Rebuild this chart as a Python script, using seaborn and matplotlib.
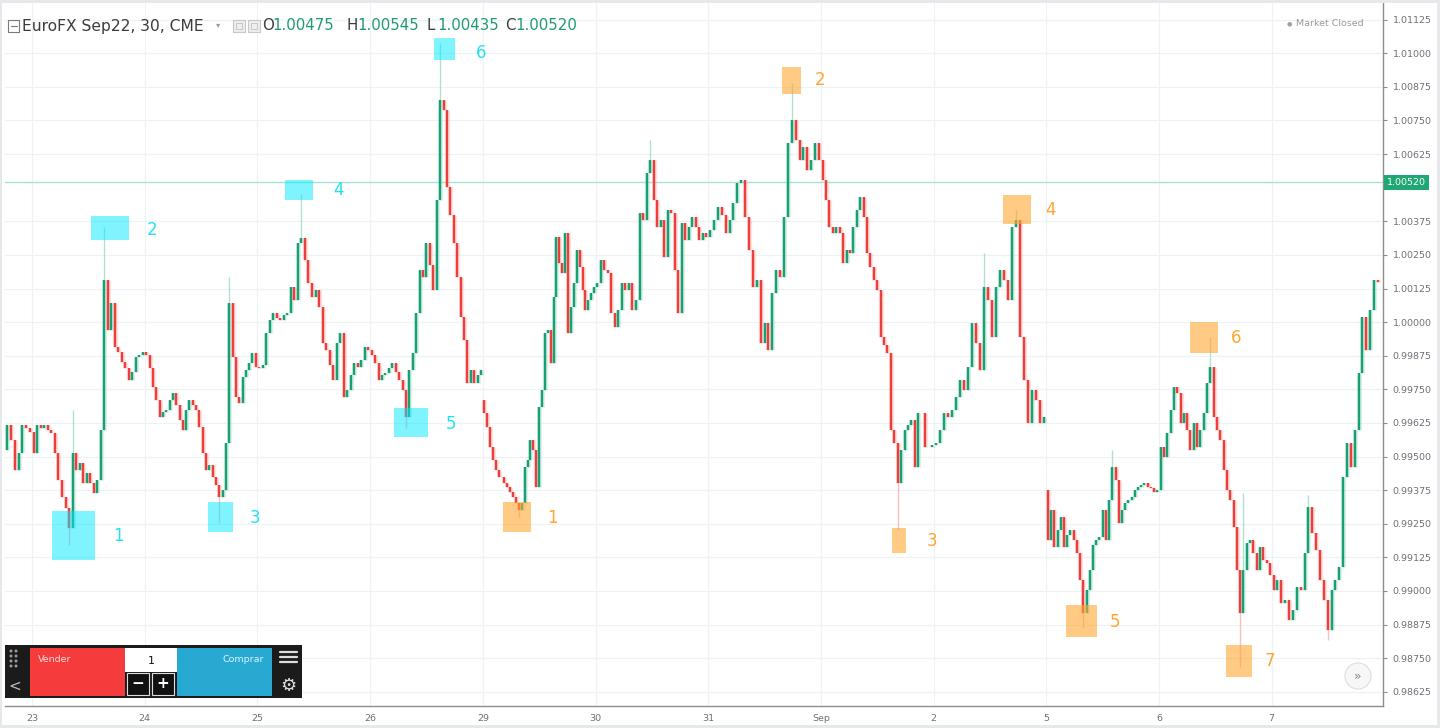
import numpy as np
import pandas as pd
import matplotlib
matplotlib.use("Agg")
import matplotlib.pyplot as plt
import seaborn as sns
from matplotlib.patches import Rectangle, Circle, Ellipse

# ---------------- data ----------------
sessions = ["22", "23", "24", "25", "26", "29", "30", "31", "Sep", "2", "5", "6", "7"]
session_pos = [-1, 0, 1, 2, 3, 4, 5, 6, 7, 8, 9, 10, 11]
shown_fraction = [0.24, 1, 1, 1, 1, 1, 1, 1, 1, 1, 1, 1, 0.96]
first_open = {"22": 0.99524, "29": 0.99710, "5": 0.99375}

closes = {
    "22": [0.99617, 0.99561, 0.99450, 0.99513, 0.99617, 0.99606, 0.99591],
    "23": [0.99513, 0.99617, 0.99606, 0.99617, 0.99598, 0.99587, 0.99513, 0.99412, 0.99349, 0.99308,
           0.99234, 0.99513, 0.99450, 0.99476, 0.99401, 0.99438, 0.99401, 0.99364, 0.99412, 0.99598,
           1.00156, 0.99970, 1.00071, 0.99907, 0.99888, 0.99851, 0.99829, 0.99784, 0.99814, 0.99870,
           0.99877, 0.99888],
    "24": [0.99877, 0.99829, 0.99758, 0.99710, 0.99647, 0.99665, 0.99673, 0.99710, 0.99736, 0.99691,
           0.99636, 0.99598, 0.99673, 0.99710, 0.99691, 0.99673, 0.99610, 0.99513, 0.99450, 0.99468,
           0.99424, 0.99394, 0.99349, 0.99375, 0.99550, 1.00071, 0.99870, 0.99721, 0.99699, 0.99796,
           0.99822, 0.99848, 0.99885, 0.99833],
    "25": [0.99829, 0.99840, 0.99959, 1.00008, 1.00034, 1.00015, 1.00008, 1.00026, 1.00034, 1.00130,
           1.00082, 1.00294, 1.00313, 1.00231, 1.00145, 1.00093, 1.00119, 1.00056, 0.99922, 0.99896,
           0.99840, 0.99784, 0.99922, 0.99959, 0.99721, 0.99747, 0.99803, 0.99848, 0.99833, 0.99859,
           0.99907, 0.99896],
    "26": [0.99877, 0.99848, 0.99784, 0.99803, 0.99810, 0.99829, 0.99848, 0.99814, 0.99784, 0.99747,
           0.99647, 0.99822, 0.99885, 1.00034, 1.00194, 1.00167, 1.00294, 1.00212, 1.00119, 1.00454,
           1.00826, 1.00789, 1.00502, 1.00398, 1.00294, 1.00167, 1.00019, 0.99933, 0.99773, 0.99822,
           0.99773, 0.99803, 0.99822],
    "29": [0.99662, 0.99610, 0.99535, 0.99487, 0.99450, 0.99424, 0.99424, 0.99401, 0.99386, 0.99368,
           0.99349, 0.99327, 0.99301, 0.99327, 0.99461, 0.99487, 0.99561, 0.99524, 0.99386, 0.99684,
           0.99747, 0.99959, 0.99970, 0.99848, 1.00093, 1.00316, 1.00220, 1.00182, 1.00331, 0.99959,
           1.00056, 1.00145, 1.00268, 1.00205, 1.00119, 1.00045, 1.00082, 1.00108, 1.00130],
    "30": [1.00145, 1.00231, 1.00194, 1.00182, 1.00034, 0.99982, 1.00045, 1.00145, 1.00119, 1.00145,
           1.00045, 1.00082, 1.00406, 1.00380, 1.00554, 1.00603, 1.00454, 1.00354, 1.00380, 1.00242,
           1.00417, 1.00406, 1.00194, 1.00034, 1.00368, 1.00305, 1.00354, 1.00391, 1.00354, 1.00305,
           1.00331, 1.00316],
    "31": [1.00342, 1.00380, 1.00428, 1.00398, 1.00331, 1.00380, 1.00443, 1.00517, 1.00528, 1.00391,
           1.00268, 1.00130, 1.00156, 0.99922, 0.99996, 0.99896, 1.00108, 1.00194, 1.00167, 1.00391,
           1.00666, 1.00752, 1.00677, 1.00603, 1.00651, 1.00566, 1.00603, 1.00666, 1.00603],
    "Sep": [1.00528, 1.00454, 1.00354, 1.00331, 1.00354, 1.00331, 1.00220, 1.00268, 1.00257, 1.00354,
            1.00417, 1.00465, 1.00391, 1.00257, 1.00205, 1.00156, 1.00119, 0.99944, 0.99914, 0.99885,
            0.99598, 0.99550, 0.99401, 0.99524, 0.99598, 0.99617, 0.99636, 0.99461, 0.99662, 0.99662,
            0.99535, 0.99535, 0.99543],
    "2": [0.99550, 0.99598, 0.99662, 0.99647, 0.99673, 0.99721, 0.99784, 0.99747, 0.99833, 0.99996,
          0.99922, 0.99822, 1.00130, 1.00082, 0.99944, 1.00130, 1.00194, 1.00156, 1.00082, 1.00354,
          1.00380, 0.99944, 0.99784, 0.99624, 0.99747, 0.99710, 0.99624, 0.99647],
    "5": [0.99189, 0.99301, 0.99163, 0.99226, 0.99275, 0.99163, 0.99208, 0.99226, 0.99189, 0.99141,
          0.99040, 0.98918, 0.99003, 0.99078, 0.99171, 0.99189, 0.99200, 0.99301, 0.99189, 0.99338,
          0.99461, 0.99412, 0.99252, 0.99301, 0.99327, 0.99338, 0.99349, 0.99375, 0.99386, 0.99394,
          0.99401, 0.99386, 0.99382, 0.99368, 0.99375],
    "6": [0.99535, 0.99498, 0.99587, 0.99673, 0.99758, 0.99736, 0.99624, 0.99662, 0.99598, 0.99524,
          0.99624, 0.99535, 0.99598, 0.99662, 0.99773, 0.99833, 0.99647, 0.99598, 0.99561, 0.99450,
          0.99375, 0.99338, 0.99237, 0.99078, 0.98918, 0.99078, 0.99178, 0.99189, 0.99141, 0.99078,
          0.99163, 0.99115, 0.99104, 0.99059],
    "7": [0.99003, 0.99040, 0.98955, 0.98966, 0.98892, 0.98929, 0.99014, 0.99003, 0.99141, 0.99312,
          0.99215, 0.99152, 0.99040, 0.98966, 0.98854, 0.99003, 0.99040, 0.99089, 0.99424, 0.99550,
          0.99461, 0.99598, 0.99810, 1.00019, 0.99896, 1.00045, 1.00156, 1.00148],
}

wick_highs = {("23", 11): 0.99673, ("23", 20): 1.00354, ("24", 25): 1.00167, ("25", 12): 1.00478,
              ("26", 20): 1.01038, ("30", 15): 1.00677, ("31", 21): 1.00889, ("2", 12): 1.00257,
              ("2", 20): 1.00417, ("5", 20): 0.99524, ("6", 15): 0.99944, ("6", 25): 0.99364,
              ("7", 9): 0.99356}
wick_lows = {("23", 10): 0.99171, ("24", 22): 0.99252, ("26", 10): 0.99606, ("29", 12): 0.99275,
             ("Sep", 22): 0.99226, ("5", 11): 0.98862, ("6", 24): 0.98717, ("7", 14): 0.98818}

current_price = 1.00520
header_ohlc = [("O", "1.00475"), ("H", "1.00545"), ("L", "1.00435"), ("C", "1.00520")]
price_ticks = [0.98625, 0.98750, 0.98875, 0.99000, 0.99125, 0.99250, 0.99375, 0.99500, 0.99625,
               0.99750, 0.99875, 1.00000, 1.00125, 1.00250, 1.00375, 1.00625, 1.00750, 1.00875,
               1.01000, 1.01125]
day_labels = ["23", "24", "25", "26", "29", "30", "31", "Sep", "2", "5", "6", "7"]
day_ticks = [0, 1, 2, 3, 4, 5, 6, 7, 8, 9, 10, 11]

# marker boxes: (label, x0, x1, price_low, price_high, label_x, label_price)
cyan_marks = [("1", 0.177, 0.559, 0.99115, 0.99297, 0.719, 0.99204),
              ("2", 0.524, 0.861, 1.00305, 1.00394, 1.020, 1.00342),
              ("3", 1.562, 1.784, 0.99219, 0.99331, 1.934, 0.99271),
              ("4", 2.245, 2.493, 1.00454, 1.00528, 2.671, 1.00491),
              ("5", 3.212, 3.514, 0.99572, 0.99680, 3.673, 0.99621),
              ("6", 3.567, 3.753, 1.00975, 1.01057, 3.940, 1.01001)]
orange_marks = [("1", 4.179, 4.428, 0.99219, 0.99331, 4.570, 0.99271),
                ("2", 6.655, 6.824, 1.00848, 1.00949, 6.948, 1.00900),
                ("3", 7.631, 7.755, 0.99141, 0.99234, 7.941, 0.99185),
                ("4", 8.616, 8.864, 1.00365, 1.00473, 8.988, 1.00417),
                ("5", 9.175, 9.450, 0.98828, 0.98947, 9.565, 0.98884),
                ("6", 10.275, 10.524, 0.99885, 1.00000, 10.639, 0.99941),
                ("7", 10.595, 10.825, 0.98680, 0.98799, 10.941, 0.98739)]

# ---------------- build candle table ----------------
rows = []
prev = None
for s, k, frac in zip(sessions, session_pos, shown_fraction):
    c = closes[s]
    n = len(c)
    start = k + 1 - frac if s == sessions[0] else k
    for i, cl in enumerate(c):
        op = first_open[s] if (i == 0 and s in first_open) else prev
        x = start + (i + 0.5) / n * frac
        hi = max(op, cl)
        lo = min(op, cl)
        hi = max(hi, wick_highs.get((s, i), hi))
        lo = min(lo, wick_lows.get((s, i), lo))
        rows.append(dict(session=s, x=x, open=op, close=cl, high=hi, low=lo))
        prev = cl
df = pd.DataFrame(rows)
df["up"] = df["close"] >= df["open"]

UP = "#17a073"
DOWN = "#ec3f3c"
UP_L = "#9fd9c4"
DOWN_L = "#f6b0ad"

sns.set_theme(style="white")
plt.rcParams["font.family"] = ["DejaVu Sans"]

W, H = 1440, 728
fig = plt.figure(figsize=(W / 100, H / 100), dpi=100, facecolor="white")


def fx(x):
    return x / W


def fy(y):
    return 1 - y / H


ax = fig.add_axes([fx(5), fy(706), fx(1383) - fx(5), fy(3) - fy(706)])
ax.set_facecolor("white")
ax.set_xlim(-0.240, 11.988)
ax.set_ylim(0.98572, 1.01187)

# grid
for p in price_ticks:
    ax.axhline(p, color="#eef1f5", lw=0.9, zorder=0)
for d in day_ticks:
    ax.axvline(d, color="#eef1f5", lw=0.9, zorder=0)

# current price line
ax.axhline(current_price, color="#a6e3d2", lw=1.0, zorder=1)

# candles
body_lo = np.minimum(df["open"], df["close"])
body_hi = np.maximum(df["open"], df["close"]) + 0.000012
cols = np.where(df["up"], UP, DOWN)
lcols = np.where(df["up"], UP_L, DOWN_L)
ax.vlines(df["x"], df["low"], df["high"], colors=lcols, lw=1.0, alpha=0.8, zorder=2)
ax.vlines(df["x"], body_lo, body_hi, colors=lcols, lw=3.8, alpha=0.35, zorder=2)
ax.vlines(df["x"], body_lo, body_hi, colors=cols, lw=1.7, zorder=3)

# marker boxes
for lab, x0, x1, p0, p1, lx, lp in cyan_marks:
    ax.add_patch(Rectangle((x0, p0), x1 - x0, p1 - p0, fc="#00eaff", ec="none", alpha=0.5, zorder=4))
    ax.text(lx, lp, lab, color="#22e2f2", fontsize=12, va="center", ha="left", zorder=5)
for lab, x0, x1, p0, p1, lx, lp in orange_marks:
    ax.add_patch(Rectangle((x0, p0), x1 - x0, p1 - p0, fc="#ffa833", ec="none", alpha=0.6, zorder=4))
    ax.text(lx, lp, lab, color="#ffa530", fontsize=12, va="center", ha="left", zorder=5)

# axes styling
for sp in ["top", "left"]:
    ax.spines[sp].set_visible(False)
for sp in ["right", "bottom"]:
    ax.spines[sp].set_color("#8e8e8e")
    ax.spines[sp].set_linewidth(1.0)
ax.yaxis.tick_right()
ax.set_yticks(price_ticks)
ax.set_yticklabels([f"{p:.5f}" for p in price_ticks])
ax.set_xticks(day_ticks)
ax.set_xticklabels(day_labels)
ax.tick_params(axis="y", direction="out", length=3, width=0.8, color="#8e8e8e",
               labelcolor="#6d6f76", labelsize=6.8, pad=4)
ax.tick_params(axis="x", direction="out", length=3, width=0.8, color="#8e8e8e",
               labelcolor="#6d6f76", labelsize=6.8, pad=3)
ax.grid(False)

# current price label box
ax.text(1.003, current_price, "1.00520", transform=ax.get_yaxis_transform(), fontsize=6.8,
        color="white", va="center", ha="left",
        bbox=dict(boxstyle="square,pad=0.35", fc="#1fa774", ec="none"), zorder=6, clip_on=False)

# ---------------- header ----------------
fig.add_artist(Rectangle((fx(8), fy(32)), fx(11), fy(20) - fy(32), fc="white", ec="#7a7a7a", lw=0.8))
fig.add_artist(plt.Line2D([fx(10.5), fx(16.5)], [fy(26), fy(26)], color="#7a7a7a", lw=0.8))
fig.text(fx(22), fy(26), "EuroFX Sep22, 30, CME", fontsize=11.2, color="#3b3b3b", va="center", ha="left")
fig.text(fx(216), fy(25), "▾", fontsize=6, color="#9a9a9a", va="center", ha="left")
for bx in (233, 248):
    fig.add_artist(Rectangle((fx(bx), fy(32)), fx(12), fy(20) - fy(32), fc="#eeeeee", ec="#c8c8c8", lw=0.8))
    fig.add_artist(Rectangle((fx(bx + 3), fy(29)), fx(6), fy(23) - fy(29), fc="none", ec="#c0c0c0", lw=0.6))
ohlc_x = [262, 347, 427, 505]
for (lt, val), x0 in zip(header_ohlc, ohlc_x):
    fig.text(fx(x0), fy(26), lt, fontsize=10.8, color="#3b3b3b", va="center", ha="left")
    fig.text(fx(x0 + 10), fy(26), val, fontsize=10.8, color="#1f9b6f", va="center", ha="left")
fig.text(fx(1287), fy(24), "●", fontsize=4.5, color="#a0a0a0", va="center", ha="left")
fig.text(fx(1296), fy(24), "Market Closed", fontsize=6.8, color="#9a9a9a", va="center", ha="left")

# ---------------- trading widget ----------------
def prect(x0, y0, x1, y1, fc, ec="none", lw=0.0, z=10):
    fig.add_artist(Rectangle((fx(x0), fy(y1)), fx(x1) - fx(x0), fy(y0) - fy(y1), fc=fc, ec=ec, lw=lw, zorder=z))


prect(5, 645, 302, 698, "#1b1b1b")
prect(30, 648, 125, 696, "#f63b3c", z=11)
prect(125, 648, 177, 672, "white", z=11)
prect(177, 648, 272, 696, "#27a9d1", z=11)
prect(127, 673, 149, 695, "#111111", ec="#dddddd", lw=0.8, z=12)
prect(152, 673, 174, 695, "#111111", ec="#dddddd", lw=0.8, z=12)
fig.text(fx(138), fy(684), "−", fontsize=11, color="white", va="center", ha="center", zorder=13, fontweight="bold")
fig.text(fx(163), fy(684), "+", fontsize=11, color="white", va="center", ha="center", zorder=13, fontweight="bold")
fig.text(fx(38), fy(660), "Vender", fontsize=6.8, color="#ffd9d9", va="center", ha="left", zorder=13)
fig.text(fx(264), fy(660), "Comprar", fontsize=6.8, color="#d9f3ff", va="center", ha="right", zorder=13)
fig.text(fx(151), fy(661), "1", fontsize=8, color="#111111", va="center", ha="center", zorder=13)
for yy in (651, 656, 661, 666):
    for xx in (11, 16):
        fig.add_artist(Ellipse((fx(xx), fy(yy)), 1.6 / W, 1.6 / H, color="#9a9a9a", zorder=12))
fig.text(fx(15), fy(686), "<", fontsize=11, color="#bbbbbb", va="center", ha="center", zorder=13)
for yy in (652, 657, 662):
    fig.add_artist(plt.Line2D([fx(280), fx(297)], [fy(yy), fy(yy)], color="#dddddd", lw=1.6, zorder=13))
fig.text(fx(288), fy(686), "⚙", fontsize=13, color="#dddddd", va="center", ha="center", zorder=13)

# ---------------- scroll button ----------------
fig.add_artist(Ellipse((fx(1358), fy(676)), 26 / W, 26 / H, fc="#f7f7f7", ec="#dedede", lw=0.8, zorder=8))
fig.text(fx(1358), fy(676), "»", fontsize=9, color="#888888", va="center", ha="center", zorder=9)

# ---------------- outer frame ----------------
frame_c = "#e6e8ec"
prect(0, 0, 1440, 3, frame_c, z=20)
prect(0, 725, 1440, 728, frame_c, z=20)
prect(0, 0, 2, 728, frame_c, z=20)
prect(1437, 0, 1440, 728, frame_c, z=20)

fig.savefig("out.png", dpi=100, facecolor="white")
